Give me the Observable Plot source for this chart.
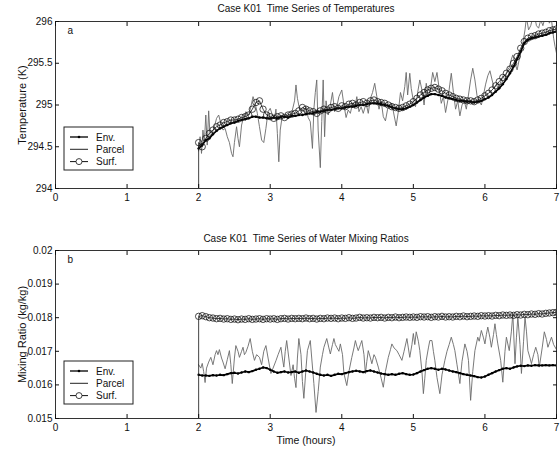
<!DOCTYPE html>
<html><head><meta charset="utf-8">
<script src="https://cdn.jsdelivr.net/npm/d3@7"></script>
<script src="https://cdn.jsdelivr.net/npm/@observablehq/plot@0.6"></script>
<style>
body{margin:0;background:#fff;}
#wrap{position:relative;width:560px;height:450px;overflow:hidden;}
#wrap svg{position:absolute;left:0;font-family:"Liberation Sans",Arial,sans-serif;}
</style></head><body><div id="wrap"></div>
<script>
const hours = [2.00,2.05,2.10,2.15,2.20,2.25,2.30,2.35,2.40,2.45,2.50,2.55,2.60,2.65,2.70,2.75,2.80,2.85,2.90,2.95,
3.00,3.05,3.10,3.15,3.20,3.25,3.30,3.35,3.40,3.45,3.50,3.55,3.60,3.65,3.70,3.75,3.80,3.85,3.90,3.95,
4.00,4.05,4.10,4.15,4.20,4.25,4.30,4.35,4.40,4.45,4.50,4.55,4.60,4.65,4.70,4.75,4.80,4.85,4.90,4.95,
5.00,5.05,5.10,5.15,5.20,5.25,5.30,5.35,5.40,5.45,5.50,5.55,5.60,5.65,5.70,5.75,5.80,5.85,5.90,5.95,
6.00,6.05,6.10,6.15,6.20,6.25,6.30,6.35,6.40,6.45,6.50,6.55,6.60,6.65,6.70,6.75,6.80,6.85,6.90,6.95,7.00];

const envTemp = [294.48,294.52,294.58,294.60,294.65,294.69,294.72,294.74,294.76,294.78,294.79,294.81,294.82,294.83,294.84,294.86,294.86,294.85,294.85,294.84,
294.84,294.85,294.84,294.86,294.86,294.85,294.87,294.87,294.88,294.88,294.89,294.90,294.90,294.92,294.92,294.93,294.94,294.94,294.95,294.96,
294.96,294.97,294.98,294.98,294.99,295.00,295.00,295.01,295.02,295.02,295.02,295.01,295.00,294.99,294.97,294.96,294.95,294.95,294.96,294.98,
295.00,295.03,295.06,295.09,295.11,295.13,295.13,295.12,295.11,295.09,295.08,295.07,295.06,295.05,295.05,295.04,295.04,295.03,295.04,295.05,
295.07,295.09,295.12,295.16,295.20,295.25,295.31,295.38,295.46,295.55,295.64,295.74,295.78,295.80,295.81,295.82,295.83,295.84,295.86,295.87,295.88];

const surfTemp = [294.55,294.50,294.60,294.66,294.70,294.74,294.76,294.79,294.80,294.82,294.82,294.83,294.85,294.86,294.88,294.95,295.03,295.05,294.95,294.88,
294.86,294.84,294.86,294.87,294.85,294.88,294.89,294.90,294.93,294.97,294.95,294.93,294.92,294.90,294.93,294.95,294.94,294.97,294.98,294.96,
294.99,294.98,295.01,295.02,295.00,295.03,295.04,295.02,295.05,295.06,295.04,295.03,295.02,295.00,294.98,294.97,294.96,294.97,294.99,295.01,
295.04,295.08,295.12,295.15,295.18,295.20,295.21,295.19,295.17,295.14,295.12,295.10,295.08,295.07,295.06,295.05,295.05,295.04,295.06,295.08,
295.11,295.14,295.18,295.23,295.28,295.33,295.38,295.43,295.50,295.58,295.68,295.76,295.80,295.82,295.83,295.85,295.86,295.87,295.89,295.90,295.91];

const parcelTemp = [[2.00,294.45],[2.02,294.62],[2.04,294.42],[2.06,294.70],[2.08,294.55],[2.10,294.88],[2.12,294.52],[2.14,294.93],[2.16,294.62],[2.19,294.66],
[2.22,294.74],[2.25,294.84],[2.28,294.88],[2.31,294.78],[2.34,294.70],[2.37,294.72],[2.40,294.62],[2.43,294.55],[2.46,294.42],[2.48,294.38],
[2.50,294.55],[2.53,294.74],[2.55,294.60],[2.57,294.50],[2.60,294.76],[2.63,294.86],[2.66,294.92],[2.70,294.88],[2.73,294.98],[2.76,295.10],
[2.79,295.02],[2.82,294.90],[2.85,294.74],[2.88,294.58],[2.91,294.55],[2.94,294.72],[2.97,294.92],[3.00,294.96],[3.03,294.88],[3.06,294.84],
[3.08,294.95],[3.10,294.66],[3.12,294.32],[3.14,294.70],[3.17,294.88],[3.20,294.84],[3.24,294.90],[3.28,294.86],[3.31,294.94],[3.34,295.05],
[3.36,295.24],[3.38,295.08],[3.41,294.95],[3.44,294.90],[3.47,294.88],[3.50,294.98],[3.53,294.85],[3.56,294.80],[3.59,294.48],[3.61,294.95],
[3.63,295.15],[3.65,295.30],[3.67,294.70],[3.70,294.25],[3.72,294.80],[3.74,295.30],[3.76,294.62],[3.78,295.05],[3.81,294.88],[3.84,295.00],
[3.87,295.15],[3.90,294.92],[3.93,294.98],[3.96,295.10],[4.00,295.18],[4.03,295.00],[4.06,294.85],[4.09,294.94],[4.12,294.90],[4.15,295.02],
[4.18,294.96],[4.21,295.10],[4.24,294.92],[4.27,294.98],[4.30,294.90],[4.34,295.02],[4.37,294.90],[4.40,295.08],[4.43,295.15],[4.46,295.26],
[4.49,295.10],[4.52,294.95],[4.55,295.05],[4.58,294.86],[4.61,294.81],[4.64,294.95],[4.67,295.00],[4.70,295.02],[4.73,294.88],[4.76,294.75],
[4.79,294.92],[4.82,295.15],[4.85,295.05],[4.88,295.22],[4.90,295.39],[4.92,295.12],[4.95,295.38],[4.97,295.20],[5.00,295.05],[5.03,294.98],
[5.06,295.15],[5.09,295.30],[5.12,295.18],[5.15,295.00],[5.18,295.26],[5.21,295.10],[5.24,295.20],[5.27,295.39],[5.30,295.28],[5.33,295.39],
[5.36,295.20],[5.39,295.02],[5.42,295.10],[5.45,294.91],[5.48,295.05],[5.51,295.25],[5.53,295.38],[5.56,295.15],[5.59,294.95],[5.62,295.05],
[5.65,294.87],[5.68,295.00],[5.71,295.05],[5.74,294.95],[5.77,295.12],[5.80,295.30],[5.83,295.44],[5.86,295.30],[5.89,295.11],[5.92,295.05],
[5.95,295.00],[5.98,295.12],[6.01,295.25],[6.04,295.35],[6.07,295.41],[6.10,295.30],[6.13,295.20],[6.16,295.25],[6.19,295.18],[6.22,295.28],
[6.25,295.35],[6.28,295.30],[6.31,295.41],[6.34,295.45],[6.37,295.55],[6.39,295.60],[6.42,295.50],[6.45,295.42],[6.48,295.55],[6.51,295.65],
[6.53,295.74],[6.56,295.90],[6.58,296.05],[6.61,295.90],[6.64,295.95],[6.67,296.05],[6.69,296.08],[6.72,295.95],[6.75,295.92],[6.78,296.02],
[6.81,295.95],[6.84,296.05],[6.87,296.10],[6.90,295.98],[6.93,296.02],[6.96,295.80],[6.98,295.70],[7.00,295.62]];

const envMix = [0.01630,0.01628,0.01628,0.01627,0.01629,0.01628,0.01630,0.01629,0.01632,0.01635,0.01636,0.01634,0.01637,0.01640,0.01638,0.01641,0.01645,0.01648,0.01652,0.01650,
0.01645,0.01640,0.01636,0.01638,0.01640,0.01637,0.01638,0.01640,0.01636,0.01640,0.01643,0.01640,0.01637,0.01633,0.01630,0.01628,0.01630,0.01627,0.01630,0.01633,
0.01632,0.01635,0.01638,0.01640,0.01642,0.01640,0.01638,0.01641,0.01643,0.01640,0.01637,0.01634,0.01632,0.01630,0.01632,0.01630,0.01633,0.01635,0.01632,0.01630,
0.01631,0.01635,0.01640,0.01644,0.01648,0.01650,0.01648,0.01645,0.01648,0.01646,0.01643,0.01640,0.01638,0.01635,0.01632,0.01630,0.01628,0.01626,0.01623,0.01622,
0.01625,0.01630,0.01635,0.01640,0.01644,0.01648,0.01650,0.01648,0.01652,0.01655,0.01657,0.01656,0.01658,0.01657,0.01659,0.01658,0.01658,0.01659,0.01658,0.01659,0.01658];

const surfMix = [0.01804,0.01806,0.01803,0.01800,0.01799,0.01797,0.01798,0.01796,0.01797,0.01795,0.01796,0.01794,0.01796,0.01795,0.01797,0.01795,0.01796,0.01797,0.01795,0.01797,
0.01796,0.01797,0.01795,0.01797,0.01798,0.01796,0.01798,0.01797,0.01798,0.01797,0.01799,0.01797,0.01798,0.01796,0.01798,0.01797,0.01799,0.01798,0.01799,0.01797,
0.01799,0.01798,0.01800,0.01798,0.01799,0.01801,0.01799,0.01800,0.01799,0.01801,0.01800,0.01801,0.01799,0.01801,0.01800,0.01802,0.01800,0.01801,0.01802,0.01801,
0.01802,0.01801,0.01803,0.01802,0.01803,0.01801,0.01803,0.01802,0.01804,0.01802,0.01803,0.01802,0.01804,0.01803,0.01805,0.01803,0.01804,0.01805,0.01804,0.01806,
0.01805,0.01806,0.01805,0.01807,0.01806,0.01808,0.01807,0.01808,0.01807,0.01809,0.01808,0.01810,0.01809,0.01811,0.01810,0.01812,0.01811,0.01813,0.01814,0.01815,0.01816];

const parcelMix = [[2.00,0.01660],[2.03,0.01650],[2.05,0.01664],[2.07,0.01640],[2.09,0.01607],[2.11,0.01650],[2.14,0.01668],[2.17,0.01682],[2.20,0.01660],[2.23,0.01690],
[2.25,0.01702],[2.27,0.01690],[2.29,0.01705],[2.32,0.01680],[2.34,0.01668],[2.37,0.01648],[2.40,0.01675],[2.43,0.01702],[2.45,0.01660],[2.47,0.01604],
[2.50,0.01680],[2.52,0.01717],[2.55,0.01700],[2.57,0.01682],[2.60,0.01700],[2.62,0.01712],[2.64,0.01690],[2.66,0.01697],[2.69,0.01715],[2.72,0.01738],
[2.75,0.01700],[2.78,0.01673],[2.81,0.01690],[2.85,0.01682],[2.88,0.01660],[2.91,0.01700],[2.94,0.01717],[2.97,0.01680],[3.01,0.01634],[3.04,0.01650],
[3.08,0.01672],[3.11,0.01690],[3.15,0.01712],[3.17,0.01680],[3.19,0.01653],[3.21,0.01700],[3.23,0.01732],[3.26,0.01680],[3.29,0.01628],[3.32,0.01660],
[3.34,0.01620],[3.36,0.01592],[3.38,0.01680],[3.40,0.01738],[3.43,0.01690],[3.45,0.01610],[3.47,0.01560],[3.50,0.01650],[3.52,0.01702],[3.56,0.01732],
[3.58,0.01680],[3.61,0.01604],[3.64,0.01518],[3.67,0.01580],[3.70,0.01653],[3.73,0.01690],[3.75,0.01712],[3.79,0.01738],[3.82,0.01710],[3.84,0.01692],
[3.87,0.01720],[3.89,0.01738],[3.91,0.01720],[3.93,0.01712],[3.96,0.01700],[3.98,0.01722],[4.01,0.01690],[4.03,0.01634],[4.07,0.01598],[4.10,0.01640],
[4.14,0.01682],[4.17,0.01710],[4.19,0.01732],[4.21,0.01715],[4.23,0.01702],[4.26,0.01720],[4.28,0.01732],[4.31,0.01690],[4.33,0.01634],[4.35,0.01670],
[4.37,0.01702],[4.40,0.01680],[4.42,0.01663],[4.45,0.01690],[4.47,0.01682],[4.51,0.01653],[4.55,0.01620],[4.58,0.01593],[4.61,0.01640],[4.65,0.01682],
[4.68,0.01705],[4.70,0.01722],[4.73,0.01710],[4.77,0.01702],[4.80,0.01690],[4.84,0.01673],[4.87,0.01700],[4.91,0.01738],[4.93,0.01710],[4.95,0.01682],
[4.98,0.01720],[5.00,0.01753],[5.02,0.01720],[5.04,0.01758],[5.07,0.01730],[5.09,0.01702],[5.12,0.01640],[5.14,0.01574],[5.16,0.01620],[5.18,0.01673],
[5.21,0.01710],[5.23,0.01732],[5.26,0.01732],[5.28,0.01700],[5.30,0.01673],[5.33,0.01622],[5.37,0.01574],[5.40,0.01630],[5.44,0.01673],[5.47,0.01700],
[5.50,0.01720],[5.53,0.01742],[5.56,0.01720],[5.58,0.01702],[5.61,0.01660],[5.65,0.01604],[5.68,0.01670],[5.72,0.01722],[5.75,0.01700],[5.77,0.01673],
[5.80,0.01554],[5.83,0.01640],[5.86,0.01702],[5.90,0.01742],[5.92,0.01730],[5.95,0.01762],[5.98,0.01740],[6.00,0.01722],[6.02,0.01750],[6.04,0.01772],
[6.07,0.01740],[6.09,0.01712],[6.12,0.01750],[6.14,0.01782],[6.16,0.01750],[6.18,0.01722],[6.22,0.01673],[6.25,0.01608],[6.28,0.01700],[6.30,0.01742],
[6.34,0.01702],[6.37,0.01760],[6.39,0.01812],[6.42,0.01663],[6.44,0.01740],[6.46,0.01802],[6.49,0.01720],[6.51,0.01634],[6.54,0.01730],[6.56,0.01802],
[6.58,0.01760],[6.60,0.01702],[6.63,0.01680],[6.65,0.01663],[6.68,0.01690],[6.71,0.01712],[6.74,0.01690],[6.76,0.01653],[6.80,0.01710],[6.83,0.01758],
[6.86,0.01735],[6.88,0.01712],[6.91,0.01730],[6.93,0.01742],[6.96,0.01720],[7.00,0.01705]];

// surface series starts from below the axis at t = 2 h
const surfStartTemp = 294;
const surfStartMix = 0.015;

const xTicks = [0,1,2,3,4,5,6,7];
const tempTicks = [294,294.5,295,295.5,296];
const mixTicks = [0.015,0.016,0.017,0.018,0.019,0.02];
const seriesNames = ["Env.","Parcel","Surf."];
const titles = ["Case K01  Time Series of Temperatures","Case K01  Time Series of Water Mixing Ratios"];
const yLabels = ["Temperature (K)","Mixing Ratio (kg/kg)"];
const xLabel = "Time (hours)";
const letters = ["a","b"];

const FONT = '"Liberation Sans",Arial,sans-serif';
const wrap = document.getElementById("wrap");

function panel(cfg) {
  const env = hours.map((t,i) => ({t, v: cfg.envV[i]}));
  const surf = hours.map((t,i) => ({t, v: cfg.surfV[i]}));
  const surfLine = [{t: hours[0], v: cfg.surfStart}, ...surf];
  const parcel = cfg.parcel.map(([t,v]) => ({t, v}));
  const marks = [
    Plot.line(parcel, {x:"t", y:"v", stroke:"#6a6a6a", strokeWidth:0.9, clip:true}),
    Plot.line(env, {x:"t", y:"v", stroke:"#000", strokeWidth:1.7, clip:true}),
    Plot.dot(env, {x:"t", y:"v", r:1.2, fill:"#000", clip:true}),
    Plot.line(surfLine, {x:"t", y:"v", stroke:"#111", strokeWidth:0.8, clip:true}),
    Plot.dot(surf, {x:"t", y:"v", r:3.2, stroke:"#111", strokeWidth:0.75, fill:"none", clip:true}),
    Plot.frame({stroke:"#333"}),
    Plot.axisX({ticks:xTicks, anchor:"bottom", tickSize:-4, tickPadding:9, label:null, tickFormat:d3.format("d")}),
    Plot.axisX({ticks:xTicks, anchor:"top", tickSize:-4, tickFormat:() => "", label:null}),
    Plot.axisY({ticks:cfg.yTicks, anchor:"left", tickSize:-4, tickPadding:7, label:null, tickFormat:d3.format("")}),
    Plot.axisY({ticks:cfg.yTicks, anchor:"right", tickSize:-4, tickFormat:() => "", label:null}),
    Plot.text([cfg.title], {text:d => d, frameAnchor:"top", dy:cfg.titleDy, lineAnchor:"middle", fontSize:10}),
    Plot.text([cfg.letter], {text:d => d, frameAnchor:"top-left", dx:12, dy:5, fontSize:10}),
    Plot.text([cfg.yLabel], {text:d => d, frameAnchor:"left", dx:-33, rotate:-90, textAnchor:"middle", lineAnchor:"middle", fontSize:11})
  ];
  if (cfg.xLabel) marks.push(Plot.text([cfg.xLabel], {text:d => d, frameAnchor:"bottom", dy:22, lineAnchor:"middle", fontSize:10.5}));
  const svg = Plot.plot({
    width:560, height:cfg.height,
    marginLeft:55, marginRight:4, marginTop:cfg.mTop, marginBottom:cfg.mBottom,
    style:{fontFamily:FONT, fontSize:"10px", color:"#111", background:"#fff", overflow:"visible"},
    x:{domain:[0,7]},
    y:{domain:cfg.yDomain},
    marks
  });
  svg.style.top = cfg.top + "px";
  // legend box
  const g = d3.select(svg).append("g").attr("transform", `translate(64,${cfg.legendTop})`);
  g.append("rect").attr("x",0).attr("y",0).attr("width",69).attr("height",43)
    .attr("fill","#fff").attr("stroke","#222").attr("stroke-width",1);
  seriesNames.forEach((name,i) => {
    const yy = 10 + i*12.3;
    const row = g.append("g");
    row.append("line").attr("x1",6).attr("x2",24).attr("y1",yy).attr("y2",yy)
      .attr("stroke", i===1 ? "#222" : "#111").attr("stroke-width", i===0 ? 1.4 : 1);
    if (i===0) row.append("circle").attr("cx",15).attr("cy",yy).attr("r",1.3).attr("fill","#000");
    if (i===2) row.append("circle").attr("cx",15).attr("cy",yy).attr("r",3).attr("fill","#fff").attr("stroke","#111").attr("stroke-width",0.8);
    row.append("text").attr("x",32).attr("y",yy).attr("dy","0.35em").attr("font-size",10)
      .attr("text-anchor","start").attr("fill","#111").text(name);
  });
  wrap.appendChild(svg);
}

panel({envV:envTemp, surfV:surfTemp, parcel:parcelTemp, surfStart:surfStartTemp,
  yDomain:[294,296], yTicks:tempTicks, title:titles[0], letter:letters[0], yLabel:yLabels[0],
  top:0, height:225, mTop:21, mBottom:37, titleDy:-13, legendTop:127});
panel({envV:envMix, surfV:surfMix, parcel:parcelMix, surfStart:surfStartMix,
  yDomain:[0.015,0.02], yTicks:mixTicks, title:titles[1], letter:letters[1], yLabel:yLabels[1], xLabel:xLabel,
  top:225, height:225, mTop:25, mBottom:32, titleDy:-12, legendTop:136});
</script></body></html>
